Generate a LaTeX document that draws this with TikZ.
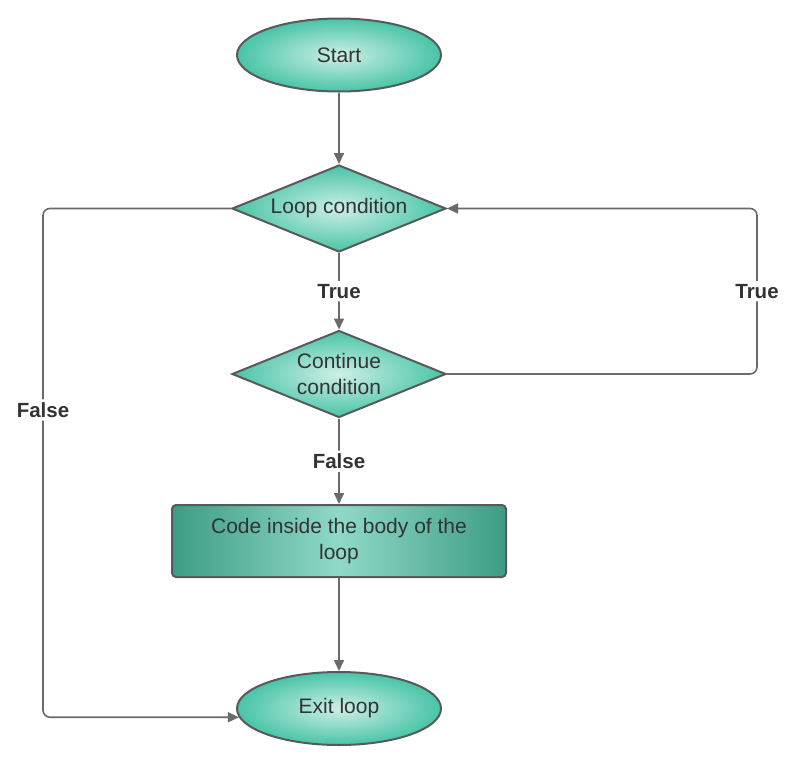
\documentclass[tikz,border=0pt]{standalone}
\usepackage{fontspec}
\setmainfont{Liberation Sans}
\usetikzlibrary{shapes.geometric,arrows.meta}
\definecolor{edgegray}{HTML}{595959}
\definecolor{linegray}{HTML}{6A6A6A}
\definecolor{txtgray}{HTML}{333333}
\definecolor{tealout}{HTML}{48C4A7}
\definecolor{tealin}{HTML}{CDEFE6}
\definecolor{boxout}{HTML}{3D9C85}
\definecolor{boxin}{HTML}{8FD9C7}
\tikzset{
  base/.style={draw=edgegray, line width=2pt, text=txtgray, inner sep=0pt,
    font=\fontsize{21}{26}\selectfont, align=center},
  terminal/.style={base, ellipse, minimum width=204pt, minimum height=73pt,
    inner color=tealin, outer color=tealout},
  decision/.style={base, diamond, aspect=2.46, minimum width=214pt, minimum height=87pt,
    inner color=tealin, outer color=tealout},
  process/.style={base, rectangle, rounded corners=4pt, minimum width=334pt,
    minimum height=72pt, left color=boxout, right color=boxout, middle color=boxin},
  arr/.style={draw=linegray, line width=1.6pt, rounded corners=7pt,
    -{Triangle[length=11pt,width=10pt]}},
  lbl/.style={fill=white, text=txtgray, inner sep=3pt,
    font=\fontsize{20.5}{24}\selectfont\bfseries}
}
\begin{document}
\begin{tikzpicture}[x=1pt,y=-1pt]
  \useasboundingbox (0,0) rectangle (796,766);
  % shapes
  \node[terminal] (start) at (339,55) {Start};
  \node[decision] (loop) at (339,208.5) {Loop condition};
  \node[decision] (cont) at (339,374) {Continue\\condition};
  \node[process] (body) at (339,541) {Code inside the body of the\\loop};
  \node[terminal] (exit) at (339,708.5) {Exit loop};
  % routing columns for the side branches
  \coordinate (rc) at (757,0);
  \coordinate (lc) at (43,0);
  % straight flow
  \draw[arr] (start) -- (loop);
  \draw[arr] (loop) -- node[lbl] {True} (cont);
  \draw[arr] (cont) -- node[lbl] {False} (body);
  \draw[arr] (body) -- (exit);
  % continue: back to the loop test
  \draw[arr] (cont.east) -- (cont.east -| rc) -- node[lbl] {True} (loop.east -| rc) -- (loop.east);
  % loop test fails: leave the loop
  \draw[arr] (loop.west) -- (loop.west -| lc) -- node[lbl, pos=0.396] {False} (exit.185 -| lc) -- (exit.185);
\end{tikzpicture}
\end{document}
